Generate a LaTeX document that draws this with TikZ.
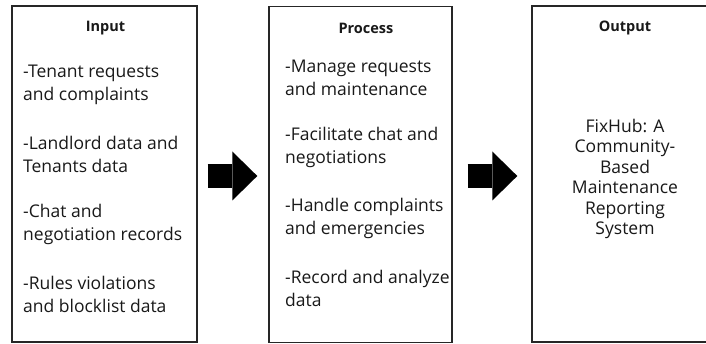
\documentclass[tikz,border=0pt]{standalone}
\usepackage{fontspec}
\setmainfont{Open Sans}
\usetikzlibrary{arrows.meta}

\begin{document}
\begin{tikzpicture}[x=1pt,y=-1pt]
\tikzset{
  panel/.style={draw=black!85,line width=1.4pt,fill=white,minimum height=336pt,inner sep=0pt},
  paneltitle/.style={font=\fontsize{14.5}{16}\selectfont\bfseries,text=black!90,inner sep=0pt},
  itemtext/.style={font=\fontsize{17.5}{23}\selectfont,text=black!90,align=left,anchor=west,inner sep=0pt},
  resulttext/.style={font=\fontsize{17.5}{20.5}\selectfont,text=black!90,align=center,inner sep=0pt},
  flowarrow/.style={line width=24pt,-{Triangle[length=25pt,width=49pt,line width=0pt]}}
}
\useasboundingbox (0,0) rectangle (706,344);
% panels
\node[panel,minimum width=185pt] (n_in) at (104.5,174) {};
\node[panel,minimum width=183pt] (n_proc) at (360.5,174.5) {};
\node[panel,minimum width=186pt] (n_out) at (625,174) {};
% titles
\node[paneltitle] (t_in) at (105.5,28) {Input};
\node[paneltitle] (t_proc) at (366,28) {Process};
\node[paneltitle] (t_out) at (625,28) {Output};
% input items
\node[itemtext] (i_a) at (23,84.5) {-Tenant requests\\and complaints};
\node[itemtext] (i_b) at (23,154.5) {-Landlord data and\\Tenants data};
\node[itemtext] (i_c) at (23,224.5) {-Chat and\\negotiation records};
\node[itemtext] (i_d) at (23,294.5) {-Rules violations\\and blocklist data};
% process items
\node[itemtext] (p_a) at (285,78) {-Manage requests\\and maintenance};
\node[itemtext] (p_b) at (285,147.5) {-Facilitate chat and\\negotiations};
\node[itemtext] (p_c) at (285,218) {-Handle complaints\\and emergencies};
\node[itemtext] (p_d) at (285,288) {-Record and analyze\\data};
% output
\node[resulttext] (o_a) at (625,179) {FixHub: A\\Community-\\Based\\Maintenance\\Reporting\\System};
% arrows
\draw[flowarrow,shorten <=10pt,shorten >=11pt] (n_in.east |- 0,176) -- (n_proc.west |- 0,176);
\draw[flowarrow,shorten <=15pt,shorten >=14pt] (n_proc.east |- 0,176) -- (n_out.west |- 0,176);
\end{tikzpicture}
\end{document}
